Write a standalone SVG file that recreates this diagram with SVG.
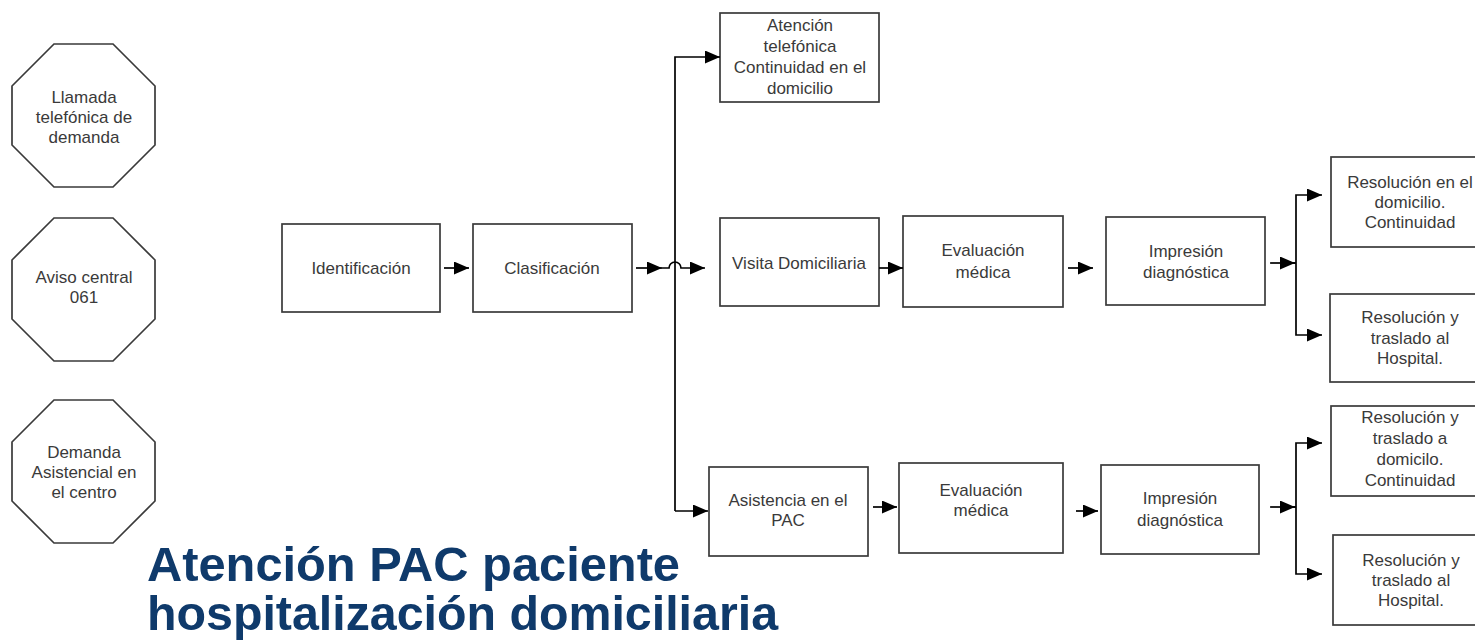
<svg xmlns="http://www.w3.org/2000/svg" width="1475" height="640" viewBox="0 0 1475 640">
<style>
.box{fill:#fff;stroke:#3a3a3a;stroke-width:1.7}
.t{font-family:"Liberation Sans",Arial,sans-serif;font-size:17px;fill:#3a3a3a;text-anchor:middle}
.c{fill:none;stroke:#000;stroke-width:1.7}
.title{font-family:"Liberation Sans",Arial,sans-serif;font-weight:bold;font-size:48px;fill:#0f3a6b}
</style>
<defs>
<marker id="ah" viewBox="0 0 15 13" refX="15" refY="6.5" markerWidth="15" markerHeight="13" markerUnits="userSpaceOnUse" orient="auto">
<path d="M0,0 L15,6.5 L0,13 Z" fill="#000"/>
</marker>
</defs>
<rect width="1475" height="640" fill="#fff"/>

<g id="oct1">
<polygon class="box" points="54,44 113,44 155,86 155,145 113,187 54,187 12,145 12,86"/>
<text class="t" x="84" y="103">Llamada</text>
<text class="t" x="84" y="123">telefónica de</text>
<text class="t" x="84" y="143">demanda</text>
</g>
<g id="oct2">
<polygon class="box" points="54,218 113,218 155,260 155,319 113,361 54,361 12,319 12,260"/>
<text class="t" x="84" y="283">Aviso central</text>
<text class="t" x="84" y="303">061</text>
</g>
<g id="oct3">
<polygon class="box" points="54,400 113,400 155,442 155,501 113,543 54,543 12,501 12,442"/>
<text class="t" x="84" y="458">Demanda</text>
<text class="t" x="84" y="478">Asistencial en</text>
<text class="t" x="84" y="498">el centro</text>
</g>

<g id="identificacion">
<rect class="box" x="282" y="224" width="158" height="88"/>
<text class="t" x="361" y="274">Identificación</text>
</g>
<g id="clasificacion">
<rect class="box" x="473" y="224" width="159" height="88"/>
<text class="t" x="552" y="274">Clasificación</text>
</g>
<g id="atencion">
<rect class="box" x="720" y="13" width="159" height="89"/>
<text class="t" x="800" y="31">Atención</text>
<text class="t" x="800" y="52">telefónica</text>
<text class="t" x="800" y="73">Continuidad en el</text>
<text class="t" x="800" y="94">domicilio</text>
</g>
<g id="visita">
<rect class="box" x="720" y="218" width="159" height="88"/>
<text class="t" x="799" y="269">Visita Domiciliaria</text>
</g>
<g id="eval1">
<rect class="box" x="903" y="216" width="160" height="91"/>
<text class="t" x="983" y="256">Evaluación</text>
<text class="t" x="983" y="278">médica</text>
</g>
<g id="impr1">
<rect class="box" x="1106" y="217" width="159" height="88"/>
<text class="t" x="1186" y="257">Impresión</text>
<text class="t" x="1186" y="278">diagnóstica</text>
</g>
<g id="res1">
<rect class="box" x="1331" y="157" width="160" height="90"/>
<text class="t" x="1410" y="188">Resolución en el</text>
<text class="t" x="1410" y="208">domicilio.</text>
<text class="t" x="1410" y="228">Continuidad</text>
</g>
<g id="res2">
<rect class="box" x="1330" y="294" width="160" height="88"/>
<text class="t" x="1410" y="323">Resolución y</text>
<text class="t" x="1410" y="344">traslado al</text>
<text class="t" x="1410" y="364">Hospital.</text>
</g>
<g id="asistencia">
<rect class="box" x="709" y="467" width="159" height="89"/>
<text class="t" x="788" y="506">Asistencia en el</text>
<text class="t" x="788" y="526">PAC</text>
</g>
<g id="eval2">
<rect class="box" x="899" y="463" width="164" height="90"/>
<text class="t" x="981" y="496">Evaluación</text>
<text class="t" x="981" y="516">médica</text>
</g>
<g id="impr2">
<rect class="box" x="1101" y="465" width="158" height="89"/>
<text class="t" x="1180" y="504">Impresión</text>
<text class="t" x="1180" y="526">diagnóstica</text>
</g>
<g id="res3">
<rect class="box" x="1331" y="406" width="160" height="90"/>
<text class="t" x="1410" y="423">Resolución y</text>
<text class="t" x="1410" y="444">traslado a</text>
<text class="t" x="1410" y="465">domicilo.</text>
<text class="t" x="1410" y="486">Continuidad</text>
</g>
<g id="res4">
<rect class="box" x="1333" y="535" width="158" height="90"/>
<text class="t" x="1411" y="566">Resolución y</text>
<text class="t" x="1411" y="586">traslado al</text>
<text class="t" x="1411" y="606">Hospital.</text>
</g>

<g id="connectors">
<path class="c" d="M444,268 L469,268" marker-end="url(#ah)"/>
<path class="c" d="M636,268 L662,268" marker-end="url(#ah)"/>
<path class="c" d="M662,268 L669,268 A6,6 0 0 1 681,268 L705,268" marker-end="url(#ah)"/>
<path class="c" d="M675,511 L675,57 L720,57" marker-end="url(#ah)"/>
<path class="c" d="M675,511 L708,511" marker-end="url(#ah)"/>
<path class="c" d="M879,268 L903,268" marker-end="url(#ah)"/>
<path class="c" d="M1068,268 L1093,268" marker-end="url(#ah)"/>
<path class="c" d="M1270,263 L1296,263"/>
<path class="c" d="M1296,263 L1296,195 L1322,195" marker-end="url(#ah)"/>
<path class="c" d="M1296,263 L1296,335 L1322,335" marker-end="url(#ah)"/>
<path class="c" d="M1280,263 L1295,263" marker-end="url(#ah)"/>
<path class="c" d="M873,507 L897,507" marker-end="url(#ah)"/>
<path class="c" d="M1076,511 L1098,511" marker-end="url(#ah)"/>
<path class="c" d="M1270,507 L1296,507"/>
<path class="c" d="M1280,507 L1295,507" marker-end="url(#ah)"/>
<path class="c" d="M1296,507 L1296,443 L1322,443" marker-end="url(#ah)"/>
<path class="c" d="M1296,507 L1296,574 L1322,574" marker-end="url(#ah)"/>
</g>

<g id="title">
<text class="title" x="147" y="581" textLength="533" lengthAdjust="spacingAndGlyphs">Atención PAC paciente</text>
<text class="title" x="147" y="630" textLength="631" lengthAdjust="spacingAndGlyphs">hospitalización domiciliaria</text>
</g>
</svg>
